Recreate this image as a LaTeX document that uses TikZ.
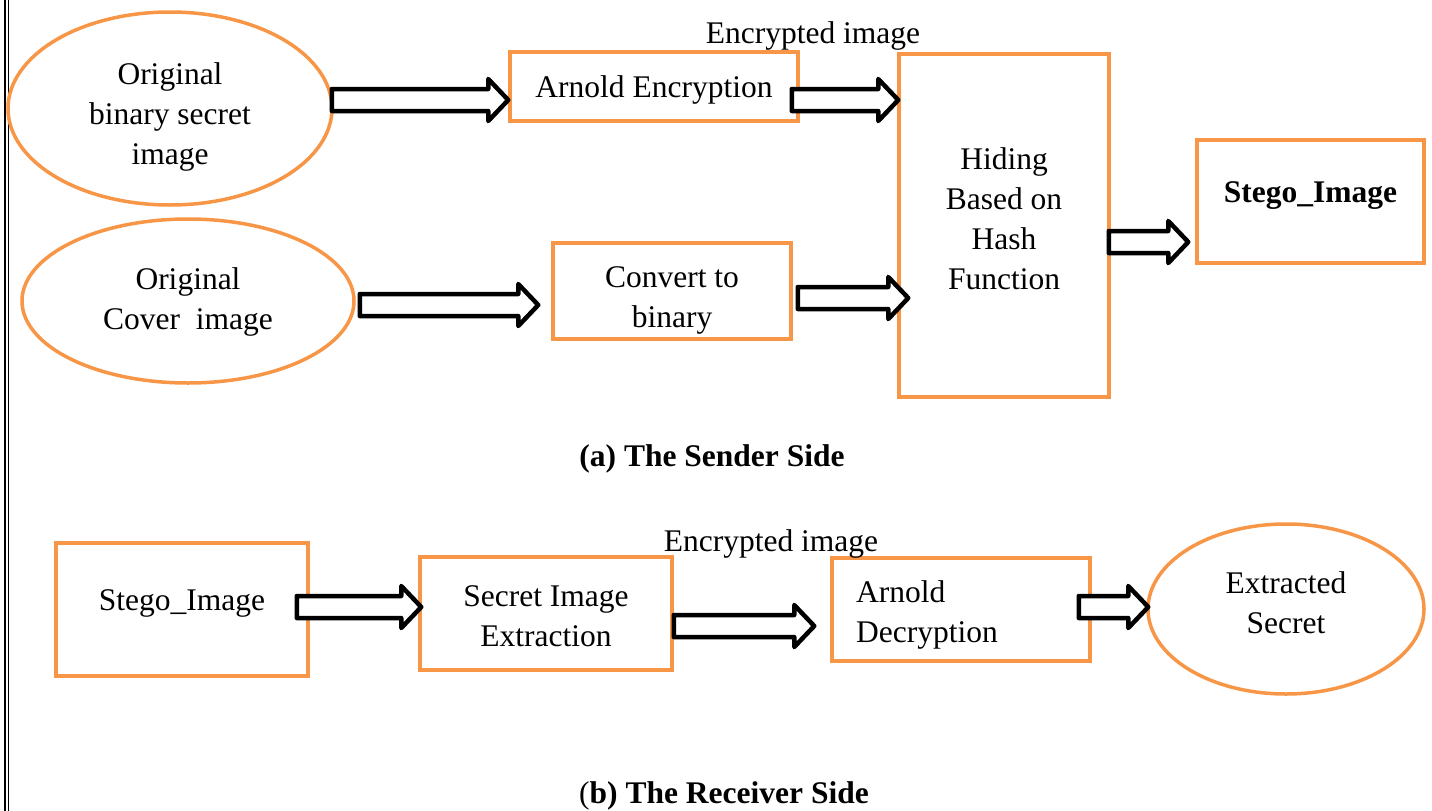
\documentclass[tikz,border=0pt]{standalone}
\usepackage{fontspec}
\setmainfont{Liberation Serif}
\usetikzlibrary{calc,shapes.geometric}
\definecolor{orng}{RGB}{247,150,70}
\tikzset{
  x=1pt, y=1pt,
  txt/.style={font=\fontsize{31.5}{40}\selectfont, align=center, inner sep=0pt, yshift=-3pt},
  box/.style={draw=orng, line width=3.5pt, rectangle, inner sep=0pt},
  oval/.style={draw=orng, line width=3.5pt, ellipse, inner sep=0pt},
  barrow/.style={draw=black, fill=white, line width=4.5pt, line join=round},
  captxt/.style={font=\fontsize{31.5}{40}\selectfont\bfseries, inner sep=0pt, yshift=-3pt},
  bord/.style={draw=black, line width=1.1pt}
}
\newcommand\blockarr[2]{%
  \draw[barrow] let \p1=#1, \p2=#2 in
    (\x1,\y2+11pt) -- (\x2-20pt,\y2+11pt) -- (\x2-20pt,\y2+21pt) -- (\x2,\y2)
    -- (\x2-20pt,\y2-21pt) -- (\x2-20pt,\y2-11pt) -- (\x1,\y2-11pt) -- cycle;}
\begin{document}
\begin{tikzpicture}
\useasboundingbox (0,0) rectangle (1432,-811);
% left border
\draw[bord] (5,0) -- (5,-811);
\draw[bord] (8.5,0) -- (8.5,-811);

% sender side
\node[oval, minimum width=324, minimum height=193,
  label={[txt,yshift=-5pt]center:{Original\\binary secret\\image}}] (e1) at (170,-108.5) {};
\node[oval, minimum width=332, minimum height=164,
  label={[txt,yshift=2pt]center:{Original\\Cover\ \ image}}] (e2) at (188,-301) {};
\node[box, minimum width=288, minimum height=69,
  label={[txt]center:Arnold Encryption}] (arn) at (654,-86.5) {};
\node[box, minimum width=238, minimum height=96,
  label={[txt,yshift=-6.5pt]center:{Convert to\\binary}}] (conv) at (672,-291) {};
\node[box, minimum width=210, minimum height=343,
  label={[txt,yshift=9.5pt]center:{Hiding\\Based on\\Hash\\Function}}] (hide) at (1004,-225.5) {};
\node[box, minimum width=227, minimum height=123,
  label={[txt,font=\fontsize{31.5}{40}\selectfont\bfseries,yshift=8.5pt]center:Stego\_Image}] (stego) at (1310.5,-201.5) {};
\node[txt] (enc1) at (813,-33) {Encrypted image};
\node[captxt] (capA) at (712,-456) {(a) The Sender Side};

\blockarr{($(e1.east)+(-2,0)$)}{($(arn.west)+(0,-13.5)$)}
\blockarr{($(arn.east)+(-8,0)$)}{($(hide.west)+(1,125.5)$)}
\blockarr{($(e2.east)+(4,0)$)}{($(conv.west)+(-13,-14)$)}
\blockarr{($(conv.east)+(5,0)$)}{($(hide.west)+(11,-72.5)$)}
\blockarr{($(hide.east)+(-2,0)$)}{($(stego.west)+(-7,-40.5)$)}

% receiver side
\node[box, minimum width=252, minimum height=133,
  label={[txt,yshift=9.5pt]center:Stego\_Image}] (rstego) at (182,-609.5) {};
\node[box, minimum width=252, minimum height=113,
  label={[txt]center:{Secret Image\\Extraction}}] (sie) at (546,-613.5) {};
\node[box, minimum width=258, minimum height=103,
  label={[txt,align=left,xshift=-34pt,yshift=-2pt]center:{Arnold\\Decryption}}] (ad) at (961,-609.5) {};
\node[oval, minimum width=276, minimum height=170,
  label={[txt,yshift=9pt]center:{Extracted\\Secret}}] (ext) at (1286,-609) {};
\node[txt] (enc2) at (771,-541) {Encrypted image};
\node[captxt] (capB) at (724,-793) {\mdseries(\bfseries b) The Receiver Side};

\blockarr{($(rstego.east)+(-13,0)$)}{($(sie.west)+(3,6.5)$)}
\blockarr{($(sie.east)+(0,0)$)}{($(ad.west)+(-16,-16.5)$)}
\blockarr{($(ad.east)+(-13,0)$)}{($(ext.west)+(2,2)$)}
\end{tikzpicture}
\end{document}
